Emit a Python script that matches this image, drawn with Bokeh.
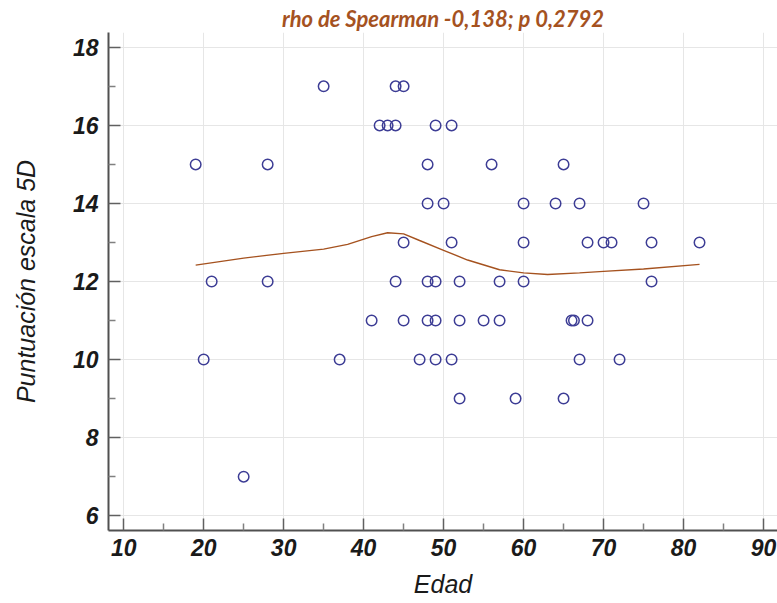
from bokeh.plotting import figure
from bokeh.models import Range1d, FixedTicker
from bokeh.embed import file_html
from bokeh.resources import INLINE

# Scatter data: Edad (age) vs Puntuación escala 5D
edad = [19, 28, 48, 56, 65,
        35, 44, 45,
        42, 43, 44, 49, 51,
        48, 50, 60, 64, 67, 75,
        45, 51, 60, 68, 70, 71, 76, 82,
        21, 28, 44, 48, 49, 52, 57, 60, 76,
        41, 45, 48, 49, 52, 55, 57, 66, 66.3, 68,
        20, 37, 47, 49, 51, 67, 72,
        52, 59, 65,
        25]
puntuacion = [15, 15, 15, 15, 15,
              17, 17, 17,
              16, 16, 16, 16, 16,
              14, 14, 14, 14, 14, 14,
              13, 13, 13, 13, 13, 13, 13, 13,
              12, 12, 12, 12, 12, 12, 12, 12, 12,
              11, 11, 11, 11, 11, 11, 11, 11, 11, 11,
              10, 10, 10, 10, 10, 10, 10,
              9, 9, 9,
              7]

# Smoothed (LOWESS-like) curve
curve_x = [19, 25, 30, 35, 38, 41, 43, 45, 47, 50, 53, 57, 60, 63, 67, 70, 75, 82]
curve_y = [12.42, 12.6, 12.72, 12.83, 12.95, 13.15, 13.25, 13.22, 13.05, 12.8,
           12.55, 12.3, 12.22, 12.18, 12.22, 12.26, 12.32, 12.44]

x_ticks = [10, 20, 30, 40, 50, 60, 70, 80, 90]
x_minor = [15, 25, 35, 45, 55, 65, 75, 85]
y_ticks = [6, 8, 10, 12, 14, 16, 18]
y_minor = [7, 9, 11, 13, 15, 17]

p = figure(width=777, height=603, output_backend="svg", toolbar_location=None,
           x_range=Range1d(8.1, 91.75), y_range=Range1d(5.62, 18.38),
           min_border_left=108, min_border_right=0, min_border_bottom=73,
           min_border_top=32)

p.title.text = "rho de Spearman -0,138; p 0,2792"
p.title.align = "center"
p.title.text_color = "#a5521f"
p.title.text_font = "Lato"
p.title.text_font_style = "bold italic"
p.title.text_font_size = "22px"
p.title.standoff = 1
p.title.offset = 0

p.outline_line_color = None
p.background_fill_color = "white"
p.border_fill_color = "white"

for ax in (p.xaxis, p.yaxis):
    ax.axis_line_color = "#505050"
    ax.axis_line_width = 2
    ax.major_tick_line_color = "#606060"
    ax.minor_tick_line_color = "#808080"
    ax.major_tick_line_width = 1.5
    ax.minor_tick_line_width = 1.5
    ax.major_tick_in = 12
    ax.major_tick_out = 0
    ax.minor_tick_in = 7
    ax.minor_tick_out = 0
    ax.major_label_text_font = "Liberation Sans"
    ax.major_label_text_font_style = "bold italic"
    ax.major_label_text_font_size = "23px"
    ax.major_label_text_color = "#1a1a1a"
    ax.axis_label_text_font = "Liberation Sans"
    ax.axis_label_text_font_style = "italic"
    ax.axis_label_text_font_size = "25px"
    ax.axis_label_text_color = "#1a1a1a"

p.xaxis.ticker = FixedTicker(ticks=x_ticks, minor_ticks=x_minor)
p.yaxis.ticker = FixedTicker(ticks=y_ticks, minor_ticks=y_minor)
p.xaxis.axis_label = "Edad"
p.yaxis.axis_label = "Puntuación escala 5D"
p.xaxis.major_label_standoff = 8
p.yaxis.major_label_standoff = 10
p.xaxis.axis_label_standoff = 11
p.yaxis.axis_label_standoff = 30

p.xgrid.ticker = FixedTicker(ticks=x_ticks)
p.ygrid.ticker = FixedTicker(ticks=y_ticks)
p.grid.grid_line_color = "#e6e6e6"
p.grid.grid_line_width = 1

p.line(curve_x, curve_y, line_color="#a5521f", line_width=1.4)
p.scatter(edad, puntuacion, marker="circle", size=10.5, fill_color=None,
          line_color="#3d3d95", line_width=1.5)

open("out.html", "w").write(file_html(p, INLINE))
